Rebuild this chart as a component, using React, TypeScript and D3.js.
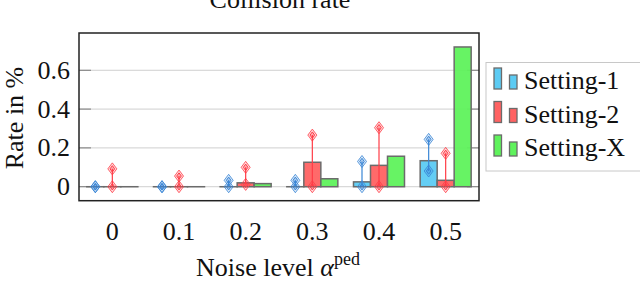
import React from "react";
import * as d3 from "d3";

const categories = ["0", "0.1", "0.2", "0.3", "0.4", "0.5"];
const seriesNames = ["Setting-1", "Setting-2", "Setting-X"];

const setting1 = [0, 0, 0, 0, 0.025, 0.134];
const setting2 = [0, 0, 0.02, 0.126, 0.11, 0.033];
const settingX = [0, 0, 0.016, 0.041, 0.157, 0.72];

// error bar ends [low, high], Setting-X has none
const err1 = [[0, 0], [0, 0], [0, 0.033], [0, 0.033], [0, 0.13], [0.081, 0.244]];
const err2 = [[0, 0.092], [0, 0.055], [0.012, 0.1], [0, 0.266], [0, 0.304], [0, 0.172]];

const yTicks = [0, 0.2, 0.4, 0.6];

const fills = ["#5ccbf3", "#ff6262", "#5ff25c"];
const errColors = ["#3a86d6", "#ff3c46"];

const W = 640;
const H = 281;
const txt = { fontFamily: "Liberation Serif" };

export default function App() {
  const left = 79, right = 479, top = 33, bottom = 200.7;

  const x = d3.scaleBand().domain(categories).range([left, right]).padding(0);
  const y = d3.scaleLinear().domain([-0.072, 0.792]).range([bottom, top]);
  const barW = 17;

  const series = [setting1, setting2, settingX];
  const errs = [err1, err2];

  const diamond = (cx, cy, hw, hh) =>
    `M${cx},${cy - hh}L${cx + hw},${cy}L${cx},${cy + hh}L${cx - hw},${cy}Z`;

  const center = (cat) => (x(cat) as number) + x.bandwidth() / 2;

  return (
    <svg width={W} height={H} style={{ position: "absolute", left: 0, top: 0, background: "#fff" }}>
      {/* title, mostly cut off at the top */}
      <text x={280} y={8} fontSize={26} textAnchor="middle" fill="#111" style={txt}>
        Collision rate
      </text>

      {/* grid */}
      {yTicks.map((t) => (
        <g key={t}>
          <line x1={left} x2={right} y1={y(t)} y2={y(t)} stroke="#cfcfcf" strokeWidth={1} />
          <line x1={left} x2={left + 12} y1={y(t)} y2={y(t)} stroke="#7a7a7a" strokeWidth={1} />
          <line x1={right - 12} x2={right} y1={y(t)} y2={y(t)} stroke="#7a7a7a" strokeWidth={1} />
          <text x={70} y={y(t)} dy="0.33em" fontSize={26} textAnchor="end" fill="#111" style={txt}>
            {t === 0 ? "0" : t.toFixed(1)}
          </text>
        </g>
      ))}

      {/* bars */}
      {series.map((vals, si) =>
        vals.map((v, i) => {
          const cx = center(categories[i]) + (si - 1) * barW;
          const y0 = y(0);
          const y1 = y(v);
          return (
            <rect
              key={`b${si}-${i}`}
              x={cx - barW / 2}
              y={Math.min(y0, y1)}
              width={barW}
              height={Math.max(0.01, Math.abs(y0 - y1))}
              fill={fills[si]}
              fillOpacity={0.95}
              stroke="#6b6b6b"
              strokeWidth={1.5}
            />
          );
        })
      )}

      {/* error bars */}
      {errs.map((e, si) =>
        e.map(([lo, hi], i) => {
          const cx = center(categories[i]) + (si - 1) * barW;
          const c = errColors[si];
          return (
            <g key={`e${si}-${i}`}>
              <line x1={cx} x2={cx} y1={y(lo)} y2={y(hi)} stroke={c} strokeWidth={1.2} />
              {[lo, hi].map((v, k) => (
                <g key={k}>
                  <path d={diamond(cx, y(v), 4.5, 6)} fill={c} fillOpacity={0.18} stroke={c} strokeWidth={1} strokeOpacity={0.8} />
                  <path d={diamond(cx, y(v), 2.3, 3.2)} fill={c} fillOpacity={0.3} stroke={c} strokeWidth={1} />
                </g>
              ))}
            </g>
          );
        })
      )}

      {/* frame */}
      <rect x={left} y={top} width={right - left} height={bottom - top} fill="none" stroke="#222" strokeWidth={1.5} />

      {/* x tick labels */}
      {categories.map((c) => (
        <text key={c} x={center(c)} y={240} fontSize={26} textAnchor="middle" fill="#111" style={txt}>
          {c}
        </text>
      ))}

      {/* axis labels */}
      <text x={278} y={276} fontSize={26} textAnchor="middle" fill="#111" style={txt}>
        Noise level <tspan fontStyle="italic">α</tspan>
        <tspan fontSize={18} dy={-11}>ped</tspan>
      </text>
      <text transform={`translate(23,118) rotate(-90)`} fontSize={26} textAnchor="middle" fill="#111" style={txt}>
        Rate in %
      </text>

      {/* legend */}
      <rect x={486} y={62.5} width={200} height={108.5} fill="#fff" stroke="#c8c8c8" strokeWidth={1} />
      {seriesNames.map((name, i) => {
        const base = 89 + i * 33.5;
        return (
          <g key={name}>
            <rect x={494} y={base - 21} width={7.5} height={21} fill={fills[i]} stroke="#6b6b6b" strokeWidth={1.3} />
            <rect x={509.5} y={base - 14} width={7.5} height={14} fill={fills[i]} stroke="#6b6b6b" strokeWidth={1.3} />
            <text x={524} y={base} fontSize={26} fill="#111" style={txt}>
              {name}
            </text>
          </g>
        );
      })}
    </svg>
  );
}
